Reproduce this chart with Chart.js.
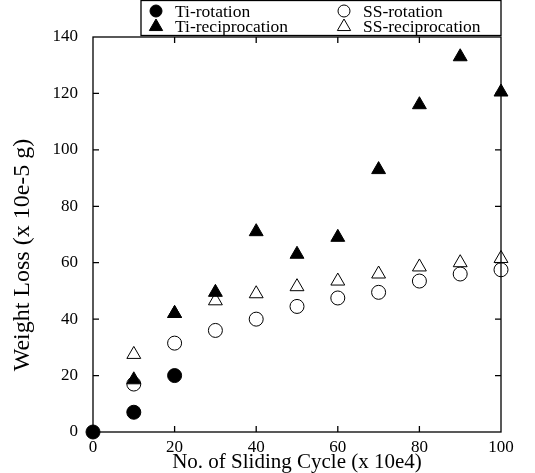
<!DOCTYPE html>
<html>
<head>
<meta charset="utf-8">
<script src="https://cdn.jsdelivr.net/npm/chart.js@4/dist/chart.umd.min.js"></script>
<style>
  html, body { margin: 0; padding: 0; background: #fff; }
  #wrap { width: 535px; height: 473px; }
</style>
</head>
<body>
<div id="wrap"><canvas id="c"></canvas></div>
<script>
// data
const cycles = [0, 10, 20, 30, 40, 50, 60, 70, 80, 90, 100];
const tiRotation = [0, 7, 20];
const ssRotation = [null, 17, 31.5, 36, 40, 44.5, 47.5, 49.5, 53.5, 56, 57.5];
const tiRecip = [null, 18.5, 42, 49.5, 71, 63, 69, 93, 116, 133, 120.5];
const ssRecip = [null, 27.5, 42, 46.5, 49, 51.5, 53.5, 56, 58.5, 60, 61.5];
const xTicks = [0, 20, 40, 60, 80, 100];
const yTicks = [0, 20, 40, 60, 80, 100, 120, 140];

const serif = '"Liberation Serif", "DejaVu Serif", serif';

function pts(vals) {
    return vals.map((v, i) => ({ x: cycles[i], y: v })).filter(p => p.y !== null);
}

function marker(ctx, style, filled, x, y, r) {
    ctx.fillStyle = filled ? '#000' : '#fff';
    ctx.strokeStyle = '#000';
    ctx.lineWidth = 1;
    ctx.beginPath();
    if (style === 'circle') {
        ctx.arc(x, y, r, 0, Math.PI * 2);
    } else {
        ctx.moveTo(x, y - r);
        ctx.lineTo(x + r * 0.95, y + r * 0.65);
        ctx.lineTo(x - r * 0.95, y + r * 0.65);
        ctx.closePath();
    }
    ctx.fill(); ctx.stroke();
}

// frame, inward ticks, axis titles and legend box
const framePlugin = {
    id: 'frame',
    afterDraw(chart) {
        const ctx = chart.ctx, a = chart.chartArea;
        const xs = chart.scales.x, ys = chart.scales.y;
        ctx.save();
        ctx.strokeStyle = '#000';
        ctx.lineWidth = 1.3;
        ctx.strokeRect(a.left, a.top, a.right - a.left, a.bottom - a.top);
        ctx.beginPath();
        xTicks.slice(1, -1).forEach(t => {
            const px = xs.getPixelForValue(t);
            ctx.moveTo(px, a.bottom); ctx.lineTo(px, a.bottom - 6);
            ctx.moveTo(px, a.top); ctx.lineTo(px, a.top + 6);
        });
        yTicks.slice(1, -1).forEach(t => {
            const py = ys.getPixelForValue(t);
            ctx.moveTo(a.left, py); ctx.lineTo(a.left + 6, py);
            ctx.moveTo(a.right, py); ctx.lineTo(a.right - 6, py);
        });
        ctx.stroke();

        // axis titles
        ctx.fillStyle = '#000';
        ctx.textAlign = 'center';
        ctx.textBaseline = 'middle';
        ctx.font = '21px ' + serif;
        ctx.fillText('No. of Sliding Cycle (x 10e4)', (a.left + a.right) / 2, 462);
        ctx.save();
        ctx.translate(23, 255);
        ctx.rotate(-Math.PI / 2);
        ctx.font = '24px ' + serif;
        ctx.fillText('Weight Loss (x 10e-5 g)', 0, 0);
        ctx.restore();

        // legend
        const bx = 141, by = 0.5, bw = 360, bh = 35;
        ctx.fillStyle = '#fff';
        ctx.fillRect(bx, by, bw, bh);
        ctx.lineWidth = 1.3;
        ctx.strokeRect(bx, by, bw, bh);
        const items = [
            { ds: 0, x: 156, y: 11 }, { ds: 2, x: 156, y: 26 },
            { ds: 1, x: 344, y: 11 }, { ds: 3, x: 344, y: 26 }
        ];
        ctx.textAlign = 'left';
        ctx.font = '17.5px ' + serif;
        items.forEach(it => {
            const d = chart.data.datasets[it.ds];
            marker(ctx, d.pointStyle, d.backgroundColor === '#000', it.x, it.y, d.pointRadius - 1);
            ctx.fillStyle = '#000';
            ctx.fillText(d.label, it.x + 19, it.y + 1);
        });
        ctx.restore();
    }
};

new Chart(document.getElementById('c'), {
    type: 'scatter',
    data: {
        datasets: [
            { label: 'Ti-rotation', data: pts(tiRotation), pointStyle: 'circle', pointRadius: 7, order: 1,
              backgroundColor: '#000', borderColor: '#000', borderWidth: 1 },
            { label: 'SS-rotation', data: pts(ssRotation), pointStyle: 'circle', pointRadius: 7, order: 3,
              backgroundColor: '#fff', borderColor: '#000', borderWidth: 1 },
            { label: 'Ti-reciprocation', data: pts(tiRecip), pointStyle: 'triangle', pointRadius: 8, order: 0,
              backgroundColor: '#000', borderColor: '#000', borderWidth: 1 },
            { label: 'SS-reciprocation', data: pts(ssRecip), pointStyle: 'triangle', pointRadius: 8, order: 2,
              backgroundColor: '#fff', borderColor: '#000', borderWidth: 1 }
        ]
    },
    options: {
        responsive: true,
        maintainAspectRatio: false,
        animation: false,
        clip: false,
        layout: { padding: { top: 37, right: 34, left: 0, bottom: 0 } },
        plugins: { legend: { display: false }, tooltip: { enabled: false } },
        scales: {
            x: {
                type: 'linear', min: 0, max: 100,
                afterBuildTicks: s => { s.ticks = xTicks.map(v => ({ value: v })); },
                afterFit: s => { s.height = 41; },
                grid: { display: false },
                border: { display: false },
                ticks: { color: '#000', padding: -3, font: { family: serif, size: 17 } }
            },
            y: {
                type: 'linear', min: 0, max: 140,
                afterBuildTicks: s => { s.ticks = yTicks.map(v => ({ value: v })); },
                afterFit: s => { s.width = 93; },
                grid: { display: false },
                border: { display: false },
                ticks: { color: '#000', padding: 7, font: { family: serif, size: 17 } }
            }
        }
    },
    plugins: [framePlugin]
});
</script>
</body>
</html>
